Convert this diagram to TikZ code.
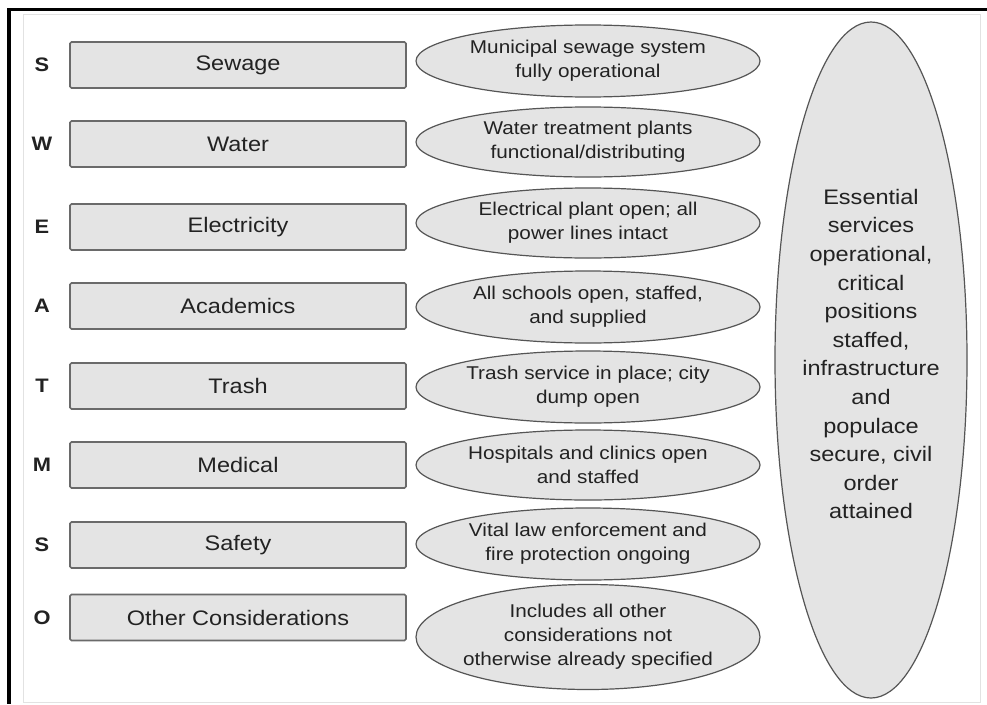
\documentclass[tikz,border=0pt]{standalone}
\usepackage{fontspec}
\setmainfont{Liberation Sans}[FakeStretch=1.12]
\usetikzlibrary{shapes.geometric}
\definecolor{boxfill}{HTML}{E4E4E4}
\definecolor{boxline}{HTML}{6A6A6A}
\definecolor{ellline}{HTML}{555555}
\definecolor{txt}{HTML}{222222}
\definecolor{framegrey}{HTML}{E2E2E2}
\tikzset{
  letter/.style={font=\fontsize{19.5}{22}\selectfont\bfseries, text=txt, inner sep=0pt},
  catbox/.style={draw=boxline, fill=boxfill, line width=1.6pt, rounded corners=1.5pt,
    minimum width=336pt, minimum height=46pt, inner sep=0pt,
    font=\fontsize{21}{24}\selectfont, text=txt},
  goalell/.style={ellipse, draw=ellline, fill=boxfill, line width=1.2pt,
    minimum width=344pt, minimum height=70pt, inner sep=0pt},
  goaltext/.style={align=center, font=\fontsize{18.5}{24}\selectfont, text=txt, inner sep=0pt},
  bigell/.style={ellipse, draw=ellline, fill=boxfill, line width=1.2pt,
    minimum width=192pt, minimum height=676pt, inner sep=0pt},
  bigtext/.style={align=center, font=\fontsize{21}{28.6}\selectfont, text=txt, inner sep=0pt}
}
\begin{document}
\begin{tikzpicture}[x=1pt,y=-1pt]
\useasboundingbox (0,0) rectangle (987,704);
\fill[white] (0,0) rectangle (987,704);
% frame
\draw[framegrey, line width=1pt] (23,14) rectangle (980,702);
\draw[black, line width=3.5pt] (8,9.5) -- (987,9.5);
\draw[black, line width=3.5pt] (9,8) -- (9,704);

% big ellipse
\node[bigell] (big) at (871,360) {};
\node[bigtext] (bigt) at (871,354) {Essential\\services\\operational,\\critical\\positions\\staffed,\\infrastructure\\and\\populace\\secure, civil\\order\\attained};

% rows
\foreach \n/\L/\lab/\by/\ey/\eh/\etxt in {
  1/S/Sewage/65/61/72/{Municipal sewage system\\fully operational},
  2/W/Water/144/142/70/{Water treatment plants\\functional/distributing},
  3/E/Electricity/227/223/70/{Electrical plant open; all\\power lines intact},
  4/A/Academics/306/307/72/{All schools open, staffed,\\and supplied},
  5/T/Trash/386/387/72/{Trash service in place; city\\dump open},
  6/M/Medical/465/465/70/{Hospitals and clinics open\\and staffed},
  7/S/Safety/545/544/72/{Vital law enforcement and\\fire protection ongoing},
  8/O/Other Considerations/617.5/637/105/{Includes all other\\considerations not\\otherwise already specified}}{
  \node[letter] (l\n) at (42,\by) {\L};
  \node[catbox] (b\n) at (238,\by) {\lab};
  \node[goalell, minimum height=\eh pt] (e\n) at (588,\ey) {};
  \node[goaltext] (t\n) at (e\n) {\etxt};
}
\end{tikzpicture}
\end{document}
